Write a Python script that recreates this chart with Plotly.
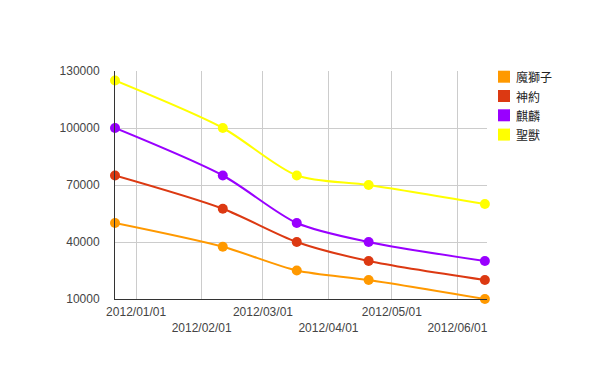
import plotly.graph_objects as go

dates = ["2011-12-22", "2012-02-11", "2012-03-17", "2012-04-20", "2012-06-14"]
series_names = ["魔獅子", "神約", "麒麟", "聖獸"]
series_values = {
    "魔獅子": [50000, 37500, 25000, 20000, 10000],
    "神約": [75000, 57500, 40000, 30000, 20000],
    "麒麟": [100000, 75000, 50000, 40000, 30000],
    "聖獸": [125000, 100000, 75000, 70000, 60000],
}
colors = {"魔獅子": "#FF9900", "神約": "#DC3912", "麒麟": "#9900FF", "聖獸": "#FFFF00"}
tick_dates = ["2012-01-01", "2012-02-01", "2012-03-01", "2012-04-01", "2012-05-01", "2012-06-01"]
tick_labels = ["2012/01/01", "2012/02/01", "2012/03/01", "2012/04/01", "2012/05/01", "2012/06/01"]
y_ticks = [10000, 40000, 70000, 100000, 130000]

# page body has an 8px margin; plot area target (window px): x 115..487, y 71..299
OFF = 8
PL, PR, PT, PB = 115, 487, 71, 299
W, H = 600, 371

fig = go.Figure()
for name in series_names:
    fig.add_trace(go.Scatter(
        x=dates, y=series_values[name], mode="lines+markers", name=name,
        line=dict(color=colors[name], width=2, shape="spline", smoothing=0.8),
        marker=dict(color=colors[name], size=10),
        cliponaxis=False, showlegend=False,
    ))

def fx(px):
    return (px - PL) / (PR - PL)

def fy(py):
    return (PB - py) / (PB - PT)

legend_y = [76.7, 96, 115.3, 134.6]
for name, cy in zip(series_names, legend_y):
    fig.add_shape(type="rect", xref="paper", yref="paper",
                  x0=fx(498), x1=fx(510), y0=fy(cy + 6), y1=fy(cy - 6),
                  fillcolor=colors[name], line=dict(width=0))
    fig.add_annotation(xref="paper", yref="paper", x=fx(514), y=fy(cy),
                       xanchor="left", yanchor="middle", showarrow=False,
                       text=name,
                       font=dict(family="Noto Sans CJK TC, sans-serif", size=12, color="#222"))

staggered = [t if i % 2 == 0 else "<br>" + t for i, t in enumerate(tick_labels)]

fig.update_layout(
    width=W, height=H,
    margin=dict(l=PL - OFF, r=W + OFF - PR, t=PT - OFF, b=H + OFF - PB),
    paper_bgcolor="white", plot_bgcolor="white",
    font=dict(family="Liberation Sans, Arial, sans-serif", size=12, color="#444"),
    showlegend=False,
    xaxis=dict(
        type="date", range=["2011-12-22", "2012-06-15"],
        tickvals=tick_dates, ticktext=staggered, tickangle=0,
        showgrid=True, gridcolor="#CCCCCC", gridwidth=1,
        showline=True, linecolor="#333", linewidth=1,
        ticks="", ticklabelstandoff=2, zeroline=False,
    ),
    yaxis=dict(
        range=[10000, 130000], tickvals=y_ticks,
        ticktext=[str(v) for v in y_ticks],
        showgrid=True, gridcolor="#CCCCCC", gridwidth=1,
        showline=True, linecolor="#333", linewidth=1,
        ticks="", ticklabelstandoff=12, zeroline=False,
    ),
)

fig.write_html("out.html")
